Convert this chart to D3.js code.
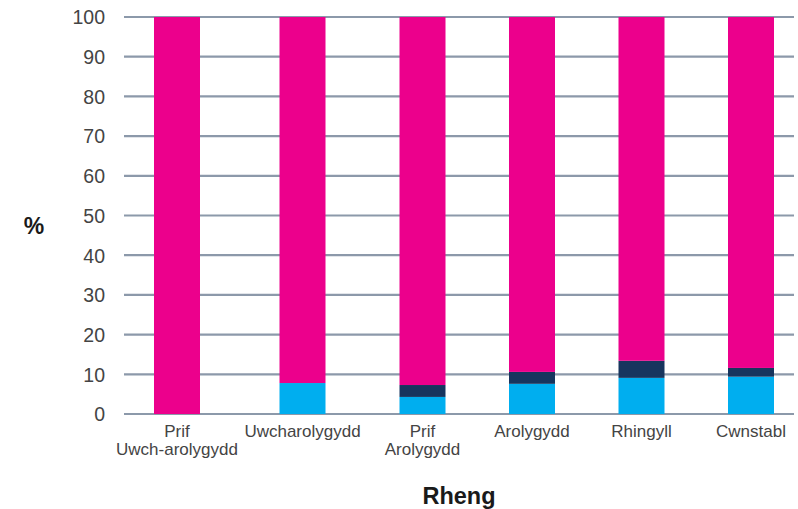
<!DOCTYPE html>
<html>
<head>
<meta charset="utf-8">
<script src="https://cdn.jsdelivr.net/npm/d3@7"></script>
<style>
  html, body { margin: 0; padding: 0; background: #fff; }
  svg { display: block; }
</style>
</head>
<body>
<svg id="chart" width="798" height="509"></svg>
<script>
// Ranks (two-line labels split on "\n")
const categories = ["Prif\nUwch-arolygydd", "Uwcharolygydd", "Prif\nArolygydd", "Arolygydd", "Rhingyll", "Cwnstabl"];
// Percentage shares per rank (stacked bottom to top)
const seriesCyan = [0, 7.8, 4.3, 7.6, 9.1, 9.4];
const seriesNavy = [0, 0, 3.0, 3.0, 4.3, 2.2];
const seriesMagenta = [100, 92.2, 92.7, 89.4, 86.6, 88.4];
const yTicks = [0, 10, 20, 30, 40, 50, 60, 70, 80, 90, 100];

const colors = { cyan: "#00AEEF", navy: "#17355E", magenta: "#EC008C" };
const seriesKeys = ["cyan", "navy", "magenta"];

const rows = categories.map((c, i) => ({
  cat: c, cyan: seriesCyan[i], navy: seriesNavy[i], magenta: seriesMagenta[i]
}));

const svg = d3.select("#chart");
const plot = { left: 124, right: 794, top: 17, bottom: 414 };
const fontBody = "'Helvetica Neue', Helvetica, 'Liberation Sans', Arial, sans-serif";

const y = d3.scaleLinear().domain([0, 100]).range([plot.bottom, plot.top]);

// Category centres follow a piecewise-linear scale over the category index
const xIdx = d3.scaleLinear().domain([0, 1, 2, 5]).range([177, 302.5, 422.5, 751]);
const barW = 46;
const xCenter = c => xIdx(categories.indexOf(c));

// Gridlines
svg.append("g")
  .selectAll("line")
  .data(yTicks)
  .join("line")
  .attr("x1", plot.left).attr("x2", plot.right)
  .attr("y1", d => y(d)).attr("y2", d => y(d))
  .attr("stroke", "#8c99aa")
  .attr("stroke-width", 2.2);

// Y axis labels
const yAxis = d3.axisLeft(y).tickValues(yTicks).tickSize(0).tickPadding(0);
const gy = svg.append("g").attr("transform", "translate(105,0)").call(yAxis);
gy.select(".domain").remove();
gy.selectAll("text")
  .attr("font-family", fontBody)
  .attr("font-size", 19.5)
  .attr("fill", "#444")
  .attr("dy", "0.35em");

// Stacked bars
const stack = d3.stack().keys(seriesKeys)(rows);
svg.append("g")
  .selectAll("g")
  .data(stack)
  .join("g")
  .attr("fill", d => colors[d.key])
  .selectAll("rect")
  .data(d => d)
  .join("rect")
  .attr("x", d => xCenter(d.data.cat) - barW / 2)
  .attr("width", barW)
  .attr("y", d => y(d[1]))
  .attr("height", d => Math.max(0, y(d[0]) - y(d[1])));

// Category labels
const gx = svg.append("g");
categories.forEach(c => {
  const lines = c.split("\n");
  const t = gx.append("text")
    .attr("x", xCenter(c))
    .attr("y", 437)
    .attr("text-anchor", "middle")
    .attr("font-family", fontBody)
    .attr("font-size", 17)
    .attr("fill", "#444");
  lines.forEach((ln, i) => {
    t.append("tspan").attr("x", xCenter(c)).attr("dy", i === 0 ? 0 : 18).text(ln);
  });
});

// Axis titles
svg.append("text")
  .attr("x", 34).attr("y", 234)
  .attr("text-anchor", "middle")
  .attr("font-family", fontBody)
  .attr("font-size", 23)
  .attr("font-weight", "bold")
  .attr("fill", "#1a1a1a")
  .text("%");

svg.append("text")
  .attr("x", 459).attr("y", 504)
  .attr("text-anchor", "middle")
  .attr("font-family", fontBody)
  .attr("font-size", 23.5)
  .attr("font-weight", "bold")
  .attr("fill", "#1a1a1a")
  .text("Rheng");
</script>
</body>
</html>
